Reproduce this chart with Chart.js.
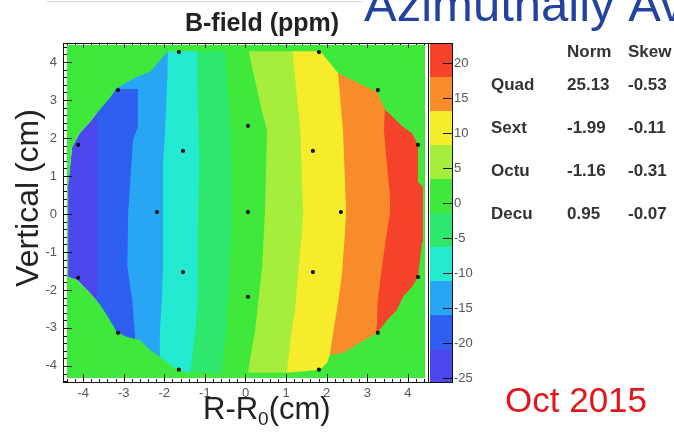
<!DOCTYPE html>
<html><head><meta charset="utf-8">
<script src="https://cdn.jsdelivr.net/npm/chart.js@4.4.0/dist/chart.umd.min.js"></script>
<style>html,body{margin:0;padding:0;background:#fff;}canvas{display:block}</style>
</head><body>
<canvas id="c" width="674" height="432"></canvas>
<script>
// ---------------- values ----------------
const xTicks = [-4, -3, -2, -1, 0, 1, 2, 3, 4];
const yTicks = [-4, -3, -2, -1, 0, 1, 2, 3, 4];
const zTicks = [-25, -20, -15, -10, -5, 0, 5, 10, 15, 20];
// contour levels (ppm): 10 equal bands between the palette limits
const zLevels = [-25.71, -20.86, -16.0, -11.14, -6.29, -1.43, 3.43, 8.29, 13.14, 18.0, 22.86];
// extent of the filled histogram (cm)
const histX = [-4.40, 4.42];
const histY = [-4.32, 4.45];
// edge of the measured region (cm), counter-clockwise from top-left
const outline = [[-1.91,4.28],[-2.35,3.74],[-2.67,3.61],[-3.17,3.32],[-3.34,3.05],[-3.66,2.66],[-3.83,2.42],[-4.08,2.13],[-4.27,1.76],[-4.37,0.76],[-4.37,-1.66],[-4.15,-1.74],[-3.83,-2.08],[-3.58,-2.39],[-3.34,-2.79],[-3.17,-3.11],[-2.92,-3.24],[-2.6,-3.32],[-2.35,-3.58],[-2.11,-3.76],[-1.79,-4.03],[-1.44,-4.18],[1.02,-4.18],[1.84,-4.1],[2.01,-3.92],[2.08,-3.71],[2.4,-3.66],[2.82,-3.39],[3.07,-3.24],[3.26,-3.11],[3.49,-2.79],[3.73,-2.53],[3.88,-2.18],[4.1,-1.92],[4.25,-1.66],[4.35,-0.74],[4.37,0.71],[4.27,0.82],[4.25,1.82],[4.1,2.13],[3.88,2.29],[3.63,2.55],[3.44,2.74],[3.24,3.21],[2.89,3.39],[2.28,3.71],[1.84,4.28]];
// contour lines (cm), top to bottom; contour k separates band k-1 (left) from band k (right)
const contour1 = [[-3.66,2.66],[-3.66,0.0],[-3.66,-2.05]];
const contour2 = [[-3.5,3.29],[-2.65,3.29],[-2.65,2.29],[-2.77,1.95],[-2.89,0.03],[-2.91,-1.39],[-2.79,-2.26],[-2.72,-3.24]];
const contour3 = [[-1.91,4.24],[-1.93,3.71],[-1.98,2.21],[-2.03,1.34],[-2.03,0.03],[-2.03,-1.39],[-2.06,-2.26],[-2.11,-3.13],[-2.11,-3.76]];
const contour4 = [[-1.19,4.26],[-1.17,3.0],[-1.14,1.34],[-1.17,0.03],[-1.17,-1.39],[-1.19,-2.26],[-1.24,-3.13],[-1.32,-3.84],[-1.37,-4.18]];
const contour5 = [[-0.5,4.3],[-0.36,2.2],[-0.33,0.03],[-0.38,-1.39],[-0.48,-3.13],[-0.58,-4.1]];
const contour6 = [[0.06,4.37],[0.41,2.68],[0.53,2.21],[0.48,0.03],[0.41,-1.39],[0.23,-3.13],[0.11,-3.84],[0.06,-4.18]];
const contour7 = [[1.17,4.13],[1.27,3.08],[1.35,2.21],[1.39,0.89],[1.42,0.03],[1.39,-0.5],[1.29,-1.66],[1.22,-2.53],[1.1,-3.39],[1.02,-4.16]];
const contour8 = [[2.28,3.71],[2.33,3.08],[2.4,2.21],[2.45,0.89],[2.48,0.03],[2.45,-0.5],[2.37,-1.66],[2.25,-2.53],[2.13,-3.32],[2.08,-3.71]];
const contour9 = [[3.43,2.65],[3.41,2.21],[3.48,1.34],[3.56,0.45],[3.56,0.03],[3.48,-0.5],[3.36,-1.39],[3.26,-2.26],[3.24,-2.79],[3.22,-3.15]];
// probe positions (cm)
const probes = [[-1.64,4.26],[1.81,4.26],[0.06,4.62],[-3.14,3.26],[3.26,3.26],[-4.12,1.82],[4.25,1.82],[-1.54,1.66],[0.06,2.32],[1.66,1.66],[-4.6,0.03],[-2.18,0.05],[0.06,0.05],[2.35,0.05],[4.59,0.05],[-1.54,-1.53],[0.06,-2.18],[1.66,-1.53],[-4.12,-1.68],[4.25,-1.66],[-3.14,-3.13],[3.26,-3.13],[-1.64,-4.1],[1.81,-4.1]];
// multipole table
const tableHeader = ['Norm', 'Skew'];
const tableNames = ['Quad', 'Sext', 'Octu', 'Decu'];
const tableNorm = ['25.13', '-1.99', '-1.16', '0.95'];
const tableSkew = ['-0.53', '-0.11', '-0.31', '-0.07'];

// ---------------- styles ----------------
const bandColors = ['#4c48ee', '#2e5ff1', '#28a6f3', '#25ead2', '#2de86c', '#3fe83b', '#a6ee3c', '#f6ec2b', '#f88c2a', '#f5432b'];
const FONT = '"Liberation Sans", Arial, Helvetica, sans-serif';

const contours = [contour1, contour2, contour3, contour4, contour5, contour6, contour7, contour8, contour9];
const pt = ([x, y]) => ({x, y});

function rightOf(curve) {
  const top = curve[0], bot = curve[curve.length - 1];
  return [[top[0], histY[1]], ...curve, [bot[0], histY[0]], [histX[1], histY[0]], [histX[1], histY[1]]].map(pt);
}
function polyDs(points, color, order) {
  return {type: 'line', data: points, backgroundColor: color, borderWidth: 0, borderColor: 'rgba(0,0,0,0)',
    pointRadius: 0, fill: 'shape', tension: 0, order: order};
}

const datasets = [];
datasets.push(polyDs(outline.map(pt), bandColors[0], 60));
contours.forEach((c, i) => datasets.push(polyDs(rightOf(c), bandColors[i + 1], 59 - i)));
// area outside the measured region (filled with the zero band colour)
const ring = [[histX[0], histY[1]], [histX[1], histY[1]], [histX[1], histY[0]], [histX[0], histY[0]], [histX[0], histY[1]],
  ...outline, outline[0], [histX[0], histY[1]]].map(pt);
datasets.push(polyDs(ring, bandColors[5], 20));
datasets.push({type: 'scatter', data: probes.map(pt), pointRadius: 2.1, pointBackgroundColor: '#111', pointBorderWidth: 0,
  showLine: false, order: 1, clip: false});

const decor = {
  id: 'decor',
  afterDatasetsDraw(chart) {
    const {ctx, chartArea: a, scales} = chart;
    const xs = scales.x, ys = scales.y, zs = scales.z;
    ctx.save();
    ctx.strokeStyle = '#111';
    ctx.lineWidth = 1;
    const seg = (x1, y1, x2, y2) => { ctx.beginPath(); ctx.moveTo(x1, y1); ctx.lineTo(x2, y2); ctx.stroke(); };
    // x ticks (inside, bottom and top)
    for (let i = -25; i <= 25; i++) {
      const v = i / 5;
      if (v < xs.min || v > xs.max) continue;
      const px = Math.round(xs.getPixelForValue(v)) + 0.5;
      const major = xTicks.includes(v);
      seg(px, a.bottom, px, a.bottom - (major ? 9 : 4));
      seg(px, a.top, px, a.top + (major ? 5 : 2));
    }
    // y ticks (inside, left)
    for (let i = -25; i <= 25; i++) {
      const v = i / 5;
      if (v < ys.min || v > ys.max) continue;
      const py = Math.round(ys.getPixelForValue(v)) + 0.5;
      const major = yTicks.includes(v);
      seg(a.left, py, a.left + (major ? 9 : 4), py);
    }
    // frame
    ctx.strokeRect(a.left + 0.5, a.top + 0.5, a.right - a.left - 1, a.bottom - a.top - 1);
    // colour bar
    const bx = a.right + 1, bw = 23;
    for (let k = 0; k < bandColors.length; k++) {
      const y1 = zs.getPixelForValue(zLevels[k + 1]);
      const y2 = zs.getPixelForValue(zLevels[k]);
      ctx.fillStyle = bandColors[k];
      ctx.fillRect(bx, y1, bw, y2 - y1);
    }
    ctx.strokeRect(a.right - 0.5, a.top + 0.5, bw + 1, a.bottom - a.top - 1);
    zTicks.forEach(v => {
      const py = Math.round(zs.getPixelForValue(v)) + 0.5;
      seg(bx + bw, py, bx + bw - 10, py);
    });
    ctx.restore();
  },
  afterDraw(chart) {
    const {ctx} = chart;
    ctx.save();
    // slide header rule + cut-off slide title
    ctx.strokeStyle = '#d8d8d8';
    ctx.lineWidth = 1;
    ctx.beginPath(); ctx.moveTo(47, 1.5); ctx.lineTo(362, 1.5); ctx.stroke();
    ctx.fillStyle = '#24429f';
    ctx.font = '49px ' + FONT;
    ctx.textBaseline = 'alphabetic';
    ctx.textAlign = 'left';
    ctx.fillText('Azimuthally Averaged', 364, 21);
    // plot title
    ctx.fillStyle = '#222';
    ctx.font = 'bold 25px ' + FONT;
    ctx.textAlign = 'center';
    ctx.fillText('B-field (ppm)', 262, 31);
    // y title
    ctx.save();
    ctx.translate(38, 198);
    ctx.rotate(-Math.PI / 2);
    ctx.font = '32px ' + FONT;
    ctx.fillText('Vertical (cm)', 0, 0);
    ctx.restore();
    // x title  R-R0(cm)
    ctx.textAlign = 'left';
    let x = 203;
    ctx.font = '31px ' + FONT;
    ctx.fillText('R-R', x, 419); x += ctx.measureText('R-R').width;
    ctx.font = '19px ' + FONT;
    ctx.fillText('0', x, 425); x += ctx.measureText('0').width;
    ctx.font = '31px ' + FONT;
    ctx.fillText('(cm)', x, 419);
    // table
    ctx.fillStyle = '#333';
    ctx.font = 'bold 17px ' + FONT;
    ctx.fillText(tableHeader[0], 567, 57);
    ctx.fillText(tableHeader[1], 628, 57);
    const rowY = [90, 133, 176, 219];
    tableNames.forEach((n, i) => {
      ctx.fillText(n, 491, rowY[i]);
      ctx.fillText(tableNorm[i], 567, rowY[i]);
      ctx.fillText(tableSkew[i], 628, rowY[i]);
    });
    // date
    ctx.fillStyle = '#e3161c';
    ctx.font = '35px ' + FONT;
    ctx.fillText('Oct 2015', 505, 412);
    ctx.restore();
  }
};

const tickFont = {family: FONT, size: 13};
new Chart(document.getElementById('c'), {
  type: 'scatter',
  data: {datasets},
  options: {
    responsive: false,
    animation: false,
    events: [],
    layout: {padding: {left: 0, right: 0, top: 43, bottom: 0}},
    plugins: {legend: {display: false}, tooltip: {enabled: false}, title: {display: false}},
    scales: {
      x: {type: 'linear', position: 'bottom', min: -4.495, max: 4.52,
        grid: {display: false, drawTicks: false}, border: {display: false},
        ticks: {stepSize: 1, includeBounds: false, padding: 3, font: tickFont, color: '#555', maxRotation: 0, autoSkip: false},
        afterFit: s => { s.height = 49; }},
      y: {type: 'linear', position: 'left', min: -4.45, max: 4.5,
        grid: {display: false, drawTicks: false}, border: {display: false},
        ticks: {stepSize: 1, includeBounds: false, padding: 6, font: tickFont, color: '#555', autoSkip: false},
        afterFit: s => { s.width = 63; }},
      z: {type: 'linear', position: 'right', min: zLevels[0], max: zLevels[zLevels.length - 1],
        grid: {display: false, drawTicks: false}, border: {display: false},
        ticks: {stepSize: 5, includeBounds: false, padding: 25, font: tickFont, color: '#555', autoSkip: false},
        afterFit: s => { s.width = 245; }}
    }
  },
  plugins: [decor]
});
</script>
</body></html>
